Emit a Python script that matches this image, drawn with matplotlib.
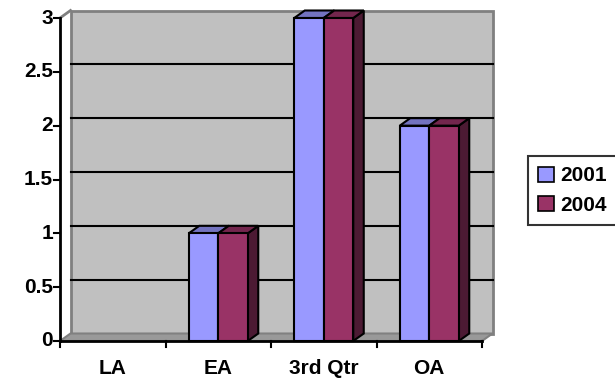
import matplotlib
matplotlib.use("Agg")
import matplotlib.pyplot as plt
from matplotlib.patches import Polygon, Patch

categories = ["LA", "EA", "3rd Qtr", "OA"]
series_names = ["2001", "2004"]
values_2001 = [0, 1, 3, 2]
values_2004 = [0, 1, 3, 2]
y_ticks = [0, 0.5, 1, 1.5, 2, 2.5, 3]
y_tick_labels = ["0", "0.5", "1", "1.5", "2", "2.5", "3"]

front_colors = ["#9999FF", "#993366"]
top_colors = ["#7373BF", "#73264D"]
side_colors = ["#4D4D80", "#4C1A33"]

plt.rcParams["font.family"] = ["Liberation Sans", "DejaVu Sans"]
plt.rcParams["font.weight"] = "bold"
FS = 15

W, H = 615, 381
fig = plt.figure(figsize=(W / 100, H / 100), dpi=100)
fig.patch.set_facecolor("white")

# plot area in pixels: x 60..482, y 18..341
ax = fig.add_axes([60 / W, (H - 341) / H, 422 / W, 323 / H])
ncat = len(categories)
ymax = 3
ax.set_xlim(0, ncat)
ax.set_ylim(0, ymax)
ax.axis("off")

# 3d depth offset in data units
px_x = ncat / 422.0
px_y = ymax / 323.0
dx = 10.5 * px_x
dy = 7.5 * px_y

# back wall
ax.add_patch(Polygon([(dx, dy), (ncat + dx, dy), (ncat + dx, ymax + dy), (dx, ymax + dy)],
                     closed=True, facecolor="#C0C0C0", edgecolor="#808080", lw=2,
                     clip_on=False, zorder=1))
# floor
ax.add_patch(Polygon([(0, 0), (ncat, 0), (ncat + dx, dy), (dx, dy)], closed=True,
                     facecolor="#999999", edgecolor="#808080", lw=1.5,
                     clip_on=False, zorder=1.5))
# side wall edge at top
ax.plot([0, dx], [ymax, ymax + dy], color="#808080", lw=2, clip_on=False, zorder=1.5)

# gridlines on the back wall
for t in y_ticks[1:-1]:
    ax.plot([dx, ncat + dx], [t + dy, t + dy], color="black", lw=1.5,
            clip_on=False, zorder=2)

# bars
w = 29.5 * px_x
for s, vals in enumerate([values_2001, values_2004]):
    for i, v in enumerate(vals):
        if v <= 0:
            continue
        x0 = i + 0.5 - w + s * w
        x1 = x0 + w
        ax.add_patch(Polygon([(x1, 0), (x1 + dx, dy), (x1 + dx, v + dy), (x1, v)],
                             closed=True, facecolor=side_colors[s], edgecolor="black",
                             lw=1.5, clip_on=False, zorder=3 + s, joinstyle="miter"))
        ax.add_patch(Polygon([(x0, v), (x1, v), (x1 + dx, v + dy), (x0 + dx, v + dy)],
                             closed=True, facecolor=top_colors[s], edgecolor="black",
                             lw=1.5, clip_on=False, zorder=3 + s, joinstyle="miter"))
        ax.add_patch(Polygon([(x0, 0), (x1, 0), (x1, v), (x0, v)], closed=True,
                             facecolor=front_colors[s], edgecolor="black", lw=1.5,
                             clip_on=False, zorder=3 + s, joinstyle="miter"))

# value axis
tick_len_x = 6 * px_x
ax.plot([0, 0], [0, ymax], color="black", lw=2, clip_on=False, zorder=6)
for t, lab in zip(y_ticks, y_tick_labels):
    ax.plot([-tick_len_x, 0], [t, t], color="black", lw=1.5, clip_on=False, zorder=6)
    ax.text(-tick_len_x - 1 * px_x, t, lab, ha="right", va="center",
            fontsize=FS, fontweight="bold", zorder=6)

# category axis
tick_len_y = 6 * px_y
ax.plot([0, ncat], [0, 0], color="black", lw=2, clip_on=False, zorder=6)
for i in range(ncat + 1):
    ax.plot([i, i], [0, -tick_len_y], color="black", lw=1.5, clip_on=False, zorder=6)
for i, lab in enumerate(categories):
    ax.text(i + 0.5, -27 * px_y, lab, ha="center", va="center",
            fontsize=FS, fontweight="bold", zorder=6)

# legend
handles = [Patch(facecolor=front_colors[k], edgecolor="black", lw=1.2, label=series_names[k])
           for k in range(len(series_names))]
leg = fig.legend(handles=handles, loc="upper left",
                 bbox_to_anchor=(528 / W, (H - 156) / H), bbox_transform=fig.transFigure,
                 borderaxespad=0, frameon=True, fancybox=False, edgecolor="black",
                 prop={"size": FS, "weight": "bold"}, handlelength=0.75, handleheight=0.75,
                 handletextpad=0.3, labelspacing=0.5, borderpad=0.5)
leg.get_frame().set_linewidth(1.5)

fig.savefig("out.png", dpi=100)
